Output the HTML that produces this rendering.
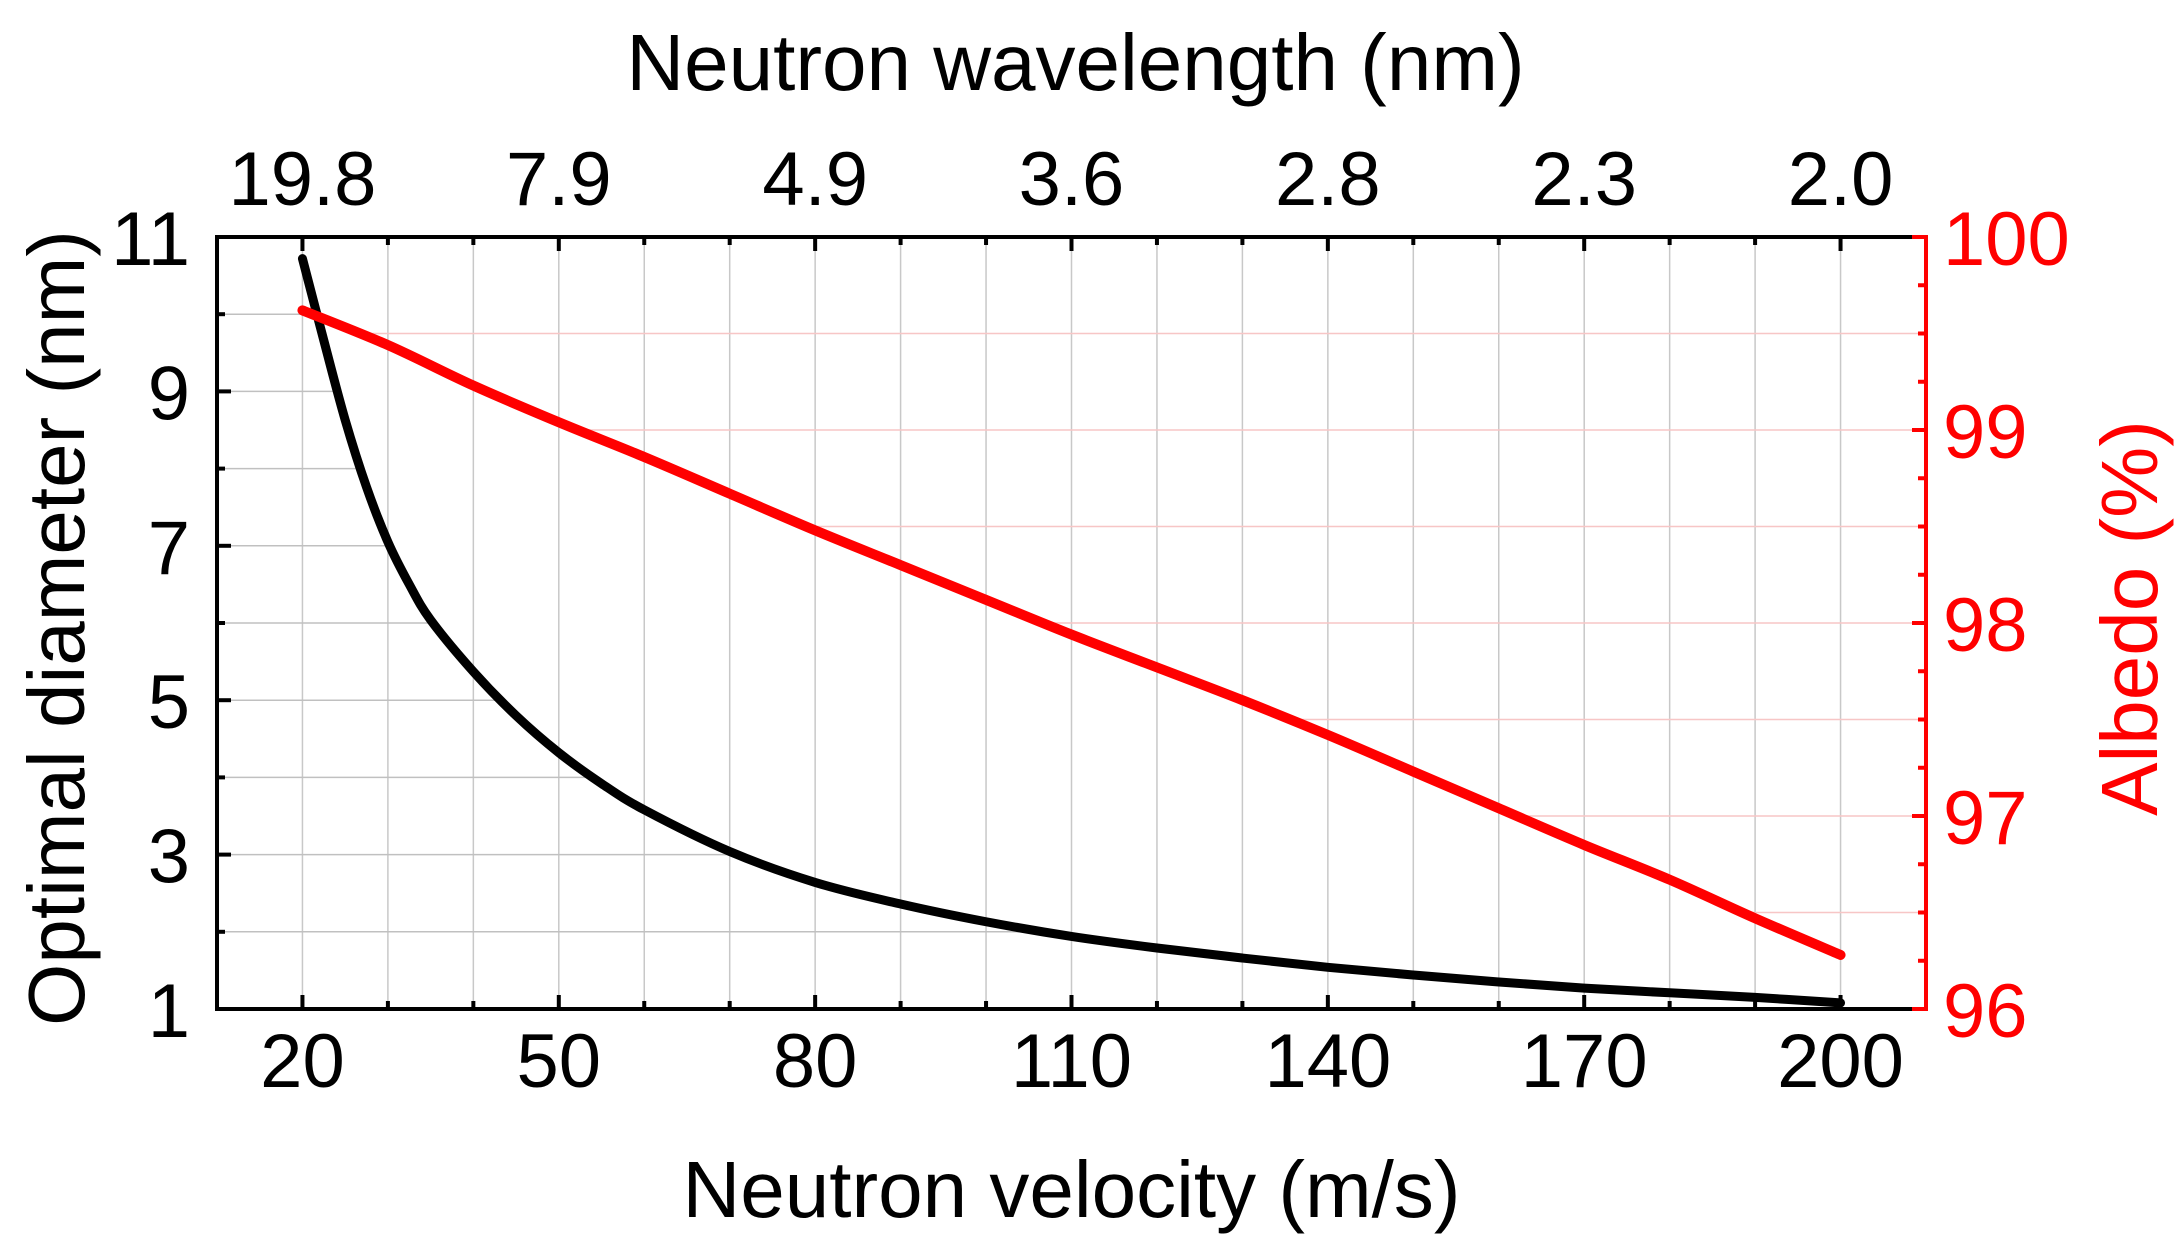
<!DOCTYPE html>
<html><head><meta charset="utf-8"><style>
html,body{margin:0;padding:0;background:#fff}
svg{display:block;font-family:"Liberation Sans",Arial,sans-serif}
</style></head><body>
<svg id="chart" width="2175" height="1240" viewBox="0 0 2175 1240" xmlns="http://www.w3.org/2000/svg">
<g id="grid"></g>
<g id="series"></g>
<g id="axes"></g>
</svg>
<script>
const velocities = [20,22.5,25,27.5,30,32.5,35,40,45,50,55,60,70,80,90,100,110,120,130,140,150,160,170,180,190,200];
const diameters = [10.72,9.66,8.63,7.76,7.05,6.50,6.04,5.37,4.80,4.32,3.92,3.58,3.04,2.64,2.36,2.13,1.94,1.79,1.66,1.54,1.44,1.35,1.27,1.21,1.15,1.08];
const albedoV = [20,30,40,50,60,70,80,90,100,110,120,130,140,150,160,170,180,190,200];
const albedo = [99.62,99.44,99.23,99.04,98.86,98.67,98.48,98.30,98.12,97.94,97.77,97.60,97.42,97.23,97.04,96.85,96.67,96.47,96.28];
const xTicks = [20,50,80,110,140,170,200];
const topLabels = ["19.8","7.9","4.9","3.6","2.8","2.3","2.0"];
const yLeftTicks = [1,3,5,7,9,11];
const yRightTicks = [96,97,98,99,100];

const L=217,R=1926,T=237,B=1009;
const X0=10,X1=210,Y0=1,Y1=11,A0=96,A1=100;
const sx=v=>L+(v-X0)/(X1-X0)*(R-L);
const sy=d=>B-(d-Y0)/(Y1-Y0)*(B-T);
const sa=a=>B-(a-A0)/(A1-A0)*(B-T);
const NS="http://www.w3.org/2000/svg";
function mk(tag,attrs,parent){const e=document.createElementNS(NS,tag);for(const k in attrs)e.setAttribute(k,attrs[k]);parent.appendChild(e);return e;}
const grid=document.getElementById('grid'),series=document.getElementById('series'),axes=document.getElementById('axes');

function interpX(xs,ys,yv,scaleY){
  for(let i=0;i<xs.length-1;i++){const y1=scaleY(ys[i]),y2=scaleY(ys[i+1]);
    if((yv-y1)*(yv-y2)<=0&&y1!==y2){return sx(xs[i]+(xs[i+1]-xs[i])*(yv-y1)/(y2-y1));}}
  return null;}
function smoothPath(pts){
  let d=`M${pts[0][0]},${pts[0][1]}`;
  for(let i=0;i<pts.length-1;i++){
    const p0=pts[Math.max(0,i-1)],p1=pts[i],p2=pts[i+1],p3=pts[Math.min(pts.length-1,i+2)];
    const c1=[p1[0]+(p2[0]-p0[0])/6,p1[1]+(p2[1]-p0[1])/6];
    const c2=[p2[0]-(p3[0]-p1[0])/6,p2[1]-(p3[1]-p1[1])/6];
    d+=` C${c1[0]},${c1[1]} ${c2[0]},${c2[1]} ${p2[0]},${p2[1]}`;
  }
  return d;}

for(let v=20;v<=200;v+=10){
  const g=mk('line',{x1:sx(v),x2:sx(v),y1:T,y2:B,stroke:'#c8c8c8','stroke-width':1.5},grid);
  
  
}
for(let d=2;d<=10;d++){
  const y=sy(d);let xe=interpX(velocities,diameters,y,sy);if(xe===null)xe=R;
  const g=mk('line',{x1:L,x2:xe,y1:y,y2:y,stroke:'#c0c0c0','stroke-width':1.5},grid);
  
  
}
for(let a=96.5;a<100;a+=0.5){
  const y=sa(a);let xs=interpX(albedoV,albedo,y,sa);if(xs===null)xs=(a>albedo[0]?sx(20):L);
  const g=mk('line',{x1:xs,x2:R,y1:y,y2:y,stroke:'#f7c6c6','stroke-width':1.5},grid);
  
  
}
const pb=mk('path',{d:smoothPath(velocities.map((v,i)=>[sx(v),sy(diameters[i])])),fill:'none',stroke:'#000','stroke-width':9,'stroke-linejoin':'round','stroke-linecap':'round'},series);


const pr=mk('path',{d:smoothPath(albedoV.map((v,i)=>[sx(v),sa(albedo[i])])),fill:'none',stroke:'#ff0000','stroke-width':10,'stroke-linejoin':'round','stroke-linecap':'round'},series);



const ab=mk('path',{d:`M${R},${T} L${L},${T} L${L},${B} L${R},${B}`,fill:'none',stroke:'#000','stroke-width':4},axes);


const ar=mk('line',{x1:R,x2:R,y1:T-2,y2:B+2,stroke:'#ff0000','stroke-width':4},axes);



for(let v=20;v<=200;v+=10){
  const major=xTicks.includes(v);const len=major?14:8;
  const t1=mk('line',{x1:sx(v),x2:sx(v),y1:B,y2:B-len,stroke:'#000','stroke-width':4},axes);
  
  
  const t2=mk('line',{x1:sx(v),x2:sx(v),y1:T,y2:T+len,stroke:'#000','stroke-width':4},axes);
  
  
}
xTicks.forEach((v,i)=>{
  const t=mk('text',{x:sx(v),y:1087,'text-anchor':'middle','font-size':76,fill:'#000'},axes);t.textContent=v;
  
  
  const u=mk('text',{x:sx(v),y:205,'text-anchor':'middle','font-size':76,fill:'#000'},axes);u.textContent=topLabels[i];
  
  
});
for(let d=1;d<=11;d++){
  const major=yLeftTicks.includes(d);
  const t=mk('line',{x1:L,x2:L+(major?14:8),y1:sy(d),y2:sy(d),stroke:'#000','stroke-width':4},axes);
  
  
}
yLeftTicks.forEach(d=>{
  const t=mk('text',{x:190,y:sy(d)+28,'text-anchor':'end','font-size':76,fill:'#000'},axes);t.textContent=d;
  
  
});
for(let a=96;a<=100.001;a+=0.25){
  const major=Math.abs(a-Math.round(a))<0.01;
  const t=mk('line',{x1:R,x2:R-(major?14:8),y1:sa(a),y2:sa(a),stroke:'#ff0000','stroke-width':4},axes);
  
  
}
yRightTicks.forEach(a=>{
  const t=mk('text',{x:1943,y:sa(a)+28,'text-anchor':'start','font-size':76,fill:'#ff0000'},axes);t.textContent=a;
  
  
});
const tb=mk('text',{x:(L+R)/2,y:1217,'text-anchor':'middle','font-size':80,fill:'#000'},axes);tb.textContent='Neutron velocity (m/s)';


const tt=mk('text',{x:(L+R)/2+4,y:90,'text-anchor':'middle','font-size':80,fill:'#000'},axes);tt.textContent='Neutron wavelength (nm)';


const tl=mk('text',{x:0,y:0,'text-anchor':'middle','font-size':80,fill:'#000',transform:`translate(84,628) rotate(-90)`},axes);tl.textContent='Optimal diameter (nm)';


const tr=mk('text',{x:0,y:0,'text-anchor':'middle','font-size':80,fill:'#ff0000',transform:`translate(2157,618) rotate(-90)`},axes);tr.textContent='Albedo (%)';


</script>
</body></html>
